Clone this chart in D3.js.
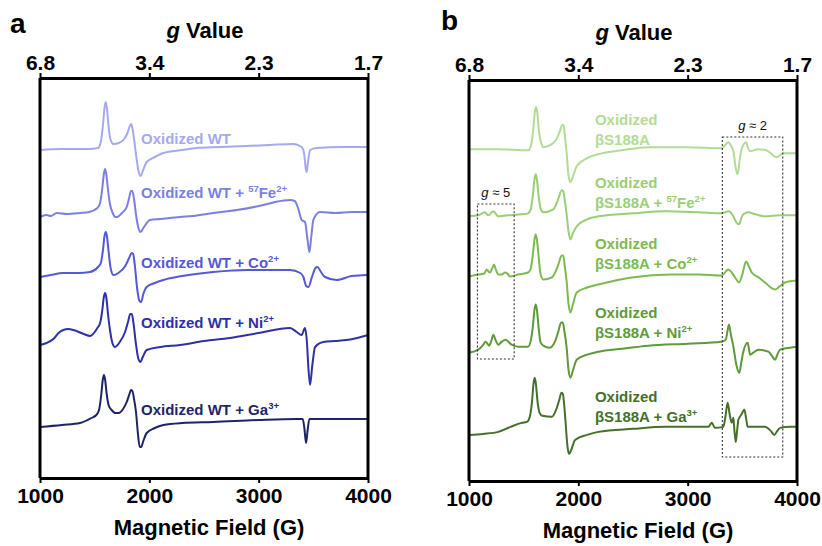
<!DOCTYPE html>
<html>
<head>
<meta charset="utf-8">
<script src="https://cdn.jsdelivr.net/npm/d3@7"></script>
<style>
  body { margin: 0; background: #fff; }
  text { font-family: "Liberation Sans", Arial, sans-serif; }
</style>
</head>
<body>
<div id="vis_canvas"></div>
<script>
// ticks
var fieldTicks = [1000, 2000, 3000, 4000];
var gTickLabels = ["6.8", "3.4", "2.3", "1.7"];

// panel a spectra: [field (G), signal (a.u.)]
var wtOx = [[1000,328],[1200,329],[1450,329],[1531,330],[1556,336],[1576,353],[1590,370],[1601,376],[1612,370],[1626,353],[1646,338],[1671,334],[1720,335],[1770,339],[1800,345],[1822,352],[1835,354],[1848,348],[1865,335],[1885,318],[1905,305],[1922,302],[1940,307],[1976,316],[2050,321],[2128,325],[2300,328],[2433,330],[2650,331],[2890,332],[3100,333],[3317,334],[3393,331],[3415,325],[3430,310],[3439,306],[3450,315],[3470,328],[3531,330],[3750,331],[4000,331]];
var wtFe = [[1000,261],[1060,263],[1100,262],[1152,265],[1250,264],[1366,265],[1450,266],[1525,270],[1550,275],[1570,290],[1584,304],[1595,309],[1606,304],[1620,290],[1640,274],[1665,265],[1690,261],[1707,261],[1750,265],[1793,271],[1815,280],[1832,287],[1845,287],[1860,279],[1880,262],[1900,250],[1920,246],[1945,250],[2006,258],[2100,259],[2280,261],[2400,262],[2585,265],[2800,268],[3043,273],[3150,276],[3287,278],[3330,277],[3360,270],[3393,258],[3424,256],[3445,240],[3464,226],[3480,240],[3500,258],[3561,266],[3700,265],[3850,266],[4000,266]];
var wtCo = [[1000,201],[1100,203],[1207,205],[1350,205],[1457,206],[1531,211],[1556,215],[1576,228],[1590,242],[1601,246],[1612,242],[1626,228],[1646,210],[1671,203],[1717,205],[1780,212],[1815,220],[1838,225],[1852,224],[1868,212],[1888,190],[1910,177],[1925,176],[1945,184],[1976,191],[2050,195],[2128,198],[2300,202],[2585,206],[2900,208],[3287,208],[3380,205],[3409,201],[3435,192],[3455,191],[3490,202],[3520,210],[3537,211],[3570,206],[3607,201],[3714,198],[3850,202],[4000,203]];
var wtNi = [[1000,133],[1060,135],[1122,139],[1170,145],[1213,148],[1260,149],[1305,148],[1400,144],[1457,142],[1525,150],[1550,155],[1570,168],[1584,181],[1595,185],[1606,181],[1620,166],[1640,148],[1665,134],[1686,131],[1730,136],[1778,146],[1805,156],[1826,164],[1840,164],[1855,155],[1875,136],[1898,120],[1918,116],[1940,121],[1976,128],[2100,131],[2280,133],[2500,137],[2738,140],[3000,145],[3287,150],[3348,146],[3393,143],[3424,150],[3440,138],[3455,110],[3470,93],[3490,112],[3516,131],[3592,136],[3700,137],[3805,138],[3900,140],[4000,143]];
var wtGa = [[1000,51],[1200,53],[1366,55],[1470,60],[1515,63],[1540,68],[1560,83],[1574,98],[1585,103],[1596,98],[1610,84],[1630,72],[1655,68],[1690,65],[1717,65],[1760,69],[1793,76],[1818,84],[1832,88],[1845,87],[1860,79],[1878,66],[1895,45],[1912,31],[1925,31],[1945,37],[1976,45],[2050,50],[2128,53],[2300,55],[2585,56],[3000,58],[3348,59],[3403,59],[3418,50],[3433,35],[3448,48],[3464,59],[3600,59],[4000,59]];

// panel b spectra
var sOx = [[1000,331],[1250,331],[1543,330],[1568,335],[1588,351],[1602,368],[1613,373],[1624,368],[1638,351],[1658,338],[1683,333],[1757,336],[1800,341],[1835,350],[1852,355],[1865,355],[1878,343],[1893,327],[1910,305],[1928,298],[1945,302],[1985,314],[2080,322],[2183,326],[2400,330],[2640,333],[3000,333],[3311,332],[3372,338],[3403,333],[3418,329],[3440,312],[3458,306],[3475,320],[3494,331],[3534,338],[3552,332],[3571,329],[3646,331],[3720,330],[3814,323],[3875,327],[4000,327]];
var sFe = [[1000,264],[1085,265],[1146,268],[1177,265],[1222,269],[1268,264],[1350,265],[1482,266],[1540,267],[1565,271],[1585,286],[1599,301],[1610,306],[1621,301],[1635,286],[1655,272],[1680,268],[1771,271],[1815,281],[1848,290],[1862,289],[1876,280],[1893,266],[1910,249],[1928,241],[1950,247],[1985,254],[2080,261],[2183,264],[2500,267],[2793,269],[3100,268],[3311,267],[3372,269],[3418,264],[3445,258],[3470,256],[3490,262],[3509,266],[3555,268],[3620,266],[3707,264],[3850,265],[4000,265]];
var sCo = [[1000,204],[1085,206],[1140,207],[1162,211],[1178,209],[1192,208],[1212,212],[1229,216],[1245,211],[1268,206],[1300,206],[1329,208],[1350,207],[1375,204],[1450,206],[1540,208],[1565,212],[1585,227],[1599,241],[1610,246],[1621,241],[1635,226],[1655,206],[1680,201],[1757,203],[1815,215],[1848,225],[1862,225],[1876,214],[1893,199],[1910,177],[1928,168],[1950,176],[1985,188],[2080,193],[2183,196],[2488,203],[2854,206],[3100,206],[3311,205],[3372,211],[3403,208],[3440,202],[3470,198],[3500,206],[3534,219],[3560,214],[3586,208],[3650,203],[3707,198],[3799,191],[3840,194],[3890,198],[4000,200]];
var sNi = [[1000,128],[1085,131],[1131,136],[1150,139],[1162,138],[1183,135],[1205,140],[1222,146],[1245,140],[1268,136],[1300,139],[1335,141],[1360,139],[1390,136],[1450,134],[1540,134],[1565,140],[1585,155],[1599,171],[1610,176],[1621,171],[1635,155],[1655,138],[1680,135],[1737,133],[1790,140],[1814,148],[1843,158],[1858,158],[1873,149],[1893,133],[1910,111],[1928,103],[1950,110],[1985,121],[2080,126],[2183,129],[2400,132],[2640,135],[3000,137],[3311,139],[3348,141],[3365,150],[3378,156],[3395,146],[3418,134],[3445,116],[3473,108],[3490,118],[3509,129],[3549,138],[3560,132],[3571,126],[3600,128],[3646,131],[3738,129],[3775,124],[3799,121],[3820,126],[3845,131],[3936,133],[4000,134]];
var sGa = [[1000,46],[1130,47],[1268,49],[1380,54],[1482,58],[1531,59],[1556,64],[1576,79],[1590,97],[1601,103],[1612,97],[1626,80],[1646,68],[1671,65],[1757,64],[1800,72],[1826,81],[1845,88],[1858,87],[1870,77],[1885,56],[1900,35],[1914,27],[1935,31],[1970,41],[2080,46],[2183,49],[2500,52],[2793,54],[3000,54],[3189,54],[3220,58],[3250,53],[3326,54],[3345,64],[3366,78],[3385,66],[3403,58],[3418,63],[3428,50],[3440,39],[3452,50],[3464,61],[3490,66],[3519,71],[3535,62],[3549,54],[3650,54],[3707,54],[3760,50],[3793,46],[3820,50],[3845,53],[3936,54],[4000,54]];

var wtColors = ["#a7a9ee", "#7b7fe3", "#5558d8", "#2e30a8", "#1f2466"];
var sColors = ["#b2dc96", "#99cf75", "#7cba50", "#5e9a3a", "#466f2b"];

// labels: lines of [text, superscript?]
var wtLabels = [
  [[["Oxidized WT", 0]]],
  [[["Oxidized WT + ", 0], ["57", 1], ["Fe", 0], ["2+", 1]]],
  [[["Oxidized WT + Co", 0], ["2+", 1]]],
  [[["Oxidized WT + Ni", 0], ["2+", 1]]],
  [[["Oxidized WT + Ga", 0], ["3+", 1]]]
];
var sLabels = [
  [[["Oxidized", 0]], [["βS188A", 0]]],
  [[["Oxidized", 0]], [["βS188A + ", 0], ["57", 1], ["Fe", 0], ["2+", 1]]],
  [[["Oxidized", 0]], [["βS188A + Co", 0], ["2+", 1]]],
  [[["Oxidized", 0]], [["βS188A + Ni", 0], ["2+", 1]]],
  [[["Oxidized", 0]], [["βS188A + Ga", 0], ["3+", 1]]]
];

var svg = d3.select("#vis_canvas").append("svg")
    .attr("width", 822).attr("height", 546);

function drawPanel(p) {
  var x = d3.scaleLinear().domain([1000, 4000]).range([p.left, p.right]);
  var y = d3.scaleLinear().domain([0, 400]).range([p.bottom, p.top]);
  var g = svg.append("g");

  var line = d3.line()
      .x(function(d) { return x(d[0]); })
      .y(function(d) { return y(d[1]); })
      .curve(d3.curveMonotoneX);

  g.selectAll(".trace").data(p.traces).enter()
    .append("path")
      .attr("class", "trace")
      .attr("d", function(d) { return line(d); })
      .attr("fill", "none")
      .attr("stroke", function(d, i) { return p.colors[i]; })
      .attr("stroke-width", 2)
      .attr("stroke-linejoin", "round");

  // boxes (g ~ 2, g ~ 5)
  (p.boxes || []).forEach(function(b) {
    g.append("rect")
      .attr("x", x(b.x0)).attr("width", x(b.x1) - x(b.x0))
      .attr("y", b.y0).attr("height", b.y1 - b.y0)
      .attr("fill", "none").attr("stroke", "#333")
      .attr("stroke-width", 1.1).attr("stroke-dasharray", "2,2");
    var t = g.append("text")
      .attr("x", (x(b.x0) + x(b.x1)) / 2).attr("y", b.y0 - 7)
      .attr("text-anchor", "middle").attr("font-size", 13).attr("fill", "#111");
    t.append("tspan").attr("font-style", "italic").text("g");
    t.append("tspan").text(" ≈ " + b.g);
  });

  // labels
  p.labels.forEach(function(lab, i) {
    lab.forEach(function(segs, j) {
      var t = g.append("text")
        .attr("x", x(p.labelField))
        .attr("y", p.labelY[i] + j * 20)
        .attr("font-size", 15).attr("font-weight", "bold")
        .attr("fill", p.colors[i]);
      var shift = 0;
      segs.forEach(function(s) {
        var sp = t.append("tspan").text(s[0]);
        if (s[1]) {
          sp.attr("font-size", 9.5).attr("dy", -6 - shift);
          shift = -6;
        } else {
          sp.attr("dy", -shift);
          shift = 0;
        }
      });
    });
  });

  // axes
  var bottom = g.append("g")
      .attr("transform", "translate(0," + p.bottom + ")")
      .call(d3.axisBottom(x).tickValues(fieldTicks).tickSize(5).tickSizeOuter(0).tickPadding(5)
        .tickFormat(d3.format("d")));
  var top = g.append("g")
      .attr("transform", "translate(0," + p.top + ")")
      .call(d3.axisTop(x).tickValues(fieldTicks).tickSize(5).tickSizeOuter(0).tickPadding(3)
        .tickFormat(function(d, i) { return gTickLabels[i]; }));
  [bottom, top].forEach(function(a) {
    a.select(".domain").attr("stroke-width", 3).attr("stroke", "#000");
    a.selectAll(".tick line").attr("stroke-width", 2).attr("stroke", "#000");
    a.selectAll(".tick text")
      .attr("font-size", 21).attr("font-weight", "bold")
      .attr("font-family", "Liberation Sans, Arial, sans-serif").attr("fill", "#000");
  });
  g.append("line").attr("x1", p.left).attr("x2", p.left)
    .attr("y1", p.top).attr("y2", p.bottom).attr("stroke", "#000").attr("stroke-width", 3);
  g.append("line").attr("x1", p.right).attr("x2", p.right)
    .attr("y1", p.top).attr("y2", p.bottom).attr("stroke", "#000").attr("stroke-width", 3);

  // titles
  var gt = g.append("text")
    .attr("x", (p.left + p.right) / 2 + 1).attr("y", p.top - 40)
    .attr("text-anchor", "middle").attr("font-size", 22).attr("font-weight", "bold");
  gt.append("tspan").attr("font-style", "italic").text("g");
  gt.append("tspan").text(" Value");

  g.append("text")
    .attr("x", (p.left + p.right) / 2 + 5).attr("y", p.bottom + 57)
    .attr("text-anchor", "middle").attr("font-size", 22).attr("font-weight", "bold")
    .text("Magnetic Field (G)");

  g.append("text")
    .attr("x", p.letterX).attr("y", p.letterY)
    .attr("font-size", 28).attr("font-weight", "bold")
    .text(p.letter);
}

drawPanel({
  left: 40, right: 368, top: 78, bottom: 478,
  traces: [wtOx, wtFe, wtCo, wtNi, wtGa],
  colors: wtColors,
  labels: wtLabels,
  labelField: 1924,
  labelY: [144, 198, 268, 328, 415],
  letter: "a", letterX: 10, letterY: 33
});

drawPanel({
  left: 469, right: 797, top: 80, bottom: 481,
  traces: [sOx, sFe, sCo, sNi, sGa],
  colors: sColors,
  labels: sLabels,
  labelField: 2152,
  labelY: [125, 188, 249, 318, 402],
  boxes: [
    {x0: 1077, x1: 1413, y0: 204, y1: 359, g: "5"},
    {x0: 3317, x1: 3870, y0: 137, y1: 457, g: "2"}
  ],
  letter: "b", letterX: 441, letterY: 30
});
</script>
</body>
</html>
